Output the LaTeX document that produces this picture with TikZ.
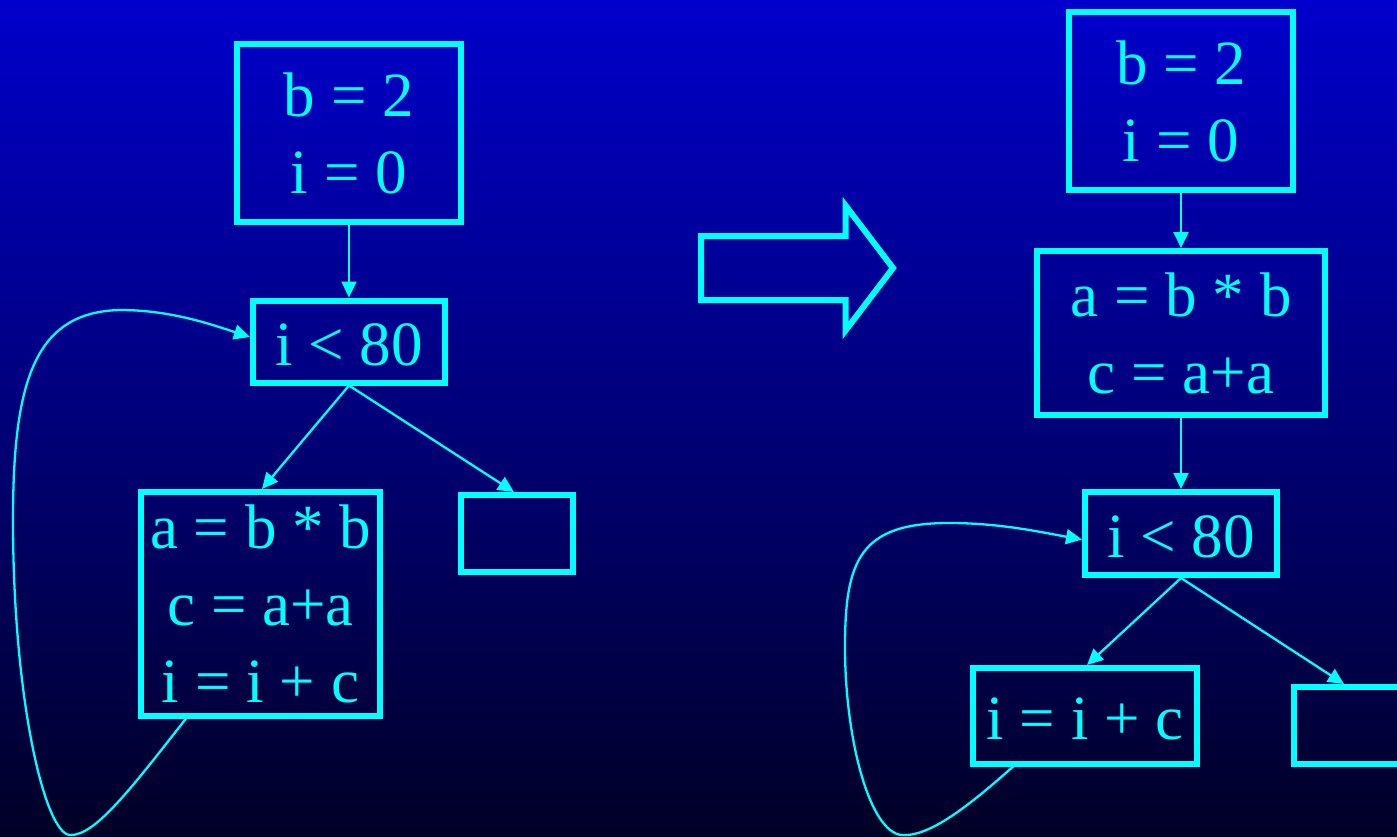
\documentclass[tikz,border=0pt]{standalone}
\usepackage{fontspec}
\setmainfont{Liberation Serif}
\usetikzlibrary{arrows.meta,calc}
\definecolor{bgtop}{RGB}{0,0,204}
\definecolor{bgbot}{RGB}{0,0,38}
\definecolor{cy}{RGB}{0,255,255}
\begin{document}
\begin{tikzpicture}[x=1pt,y=-1pt,
  blk/.style={draw=cy, line width=6pt, text=cy, align=center, inner sep=0pt,
              font=\fontsize{63}{77}\selectfont,
              execute at begin node={\rule{0pt}{48pt}}},
  edge/.style={draw=cy, line width=2.3pt, -{Triangle[length=16pt,width=15pt]}},
  ]
\useasboundingbox (0,0) rectangle (1397,836);
\clip (0,0) rectangle (1397,836);
\shade[top color=bgtop,bottom color=bgbot] (0,0) rectangle (1397,836);

% left graph
\node[blk, minimum width=224pt, minimum height=178pt] (L1) at (349,133) {b = 2\\i = 0};
\node[blk, minimum width=192pt, minimum height=82pt] (L2) at (349,341.5) {i < 80};
\node[blk, minimum width=239pt, minimum height=224pt] (L3) at (260.5,604) {a = b * b\\c = a+a\\i = i + c};
\node[blk, minimum width=112pt, minimum height=77pt] (L4) at (517,533.5) {};

\draw[edge] (L1.south) -- (L2.north);
\draw[edge] (L2.south) -- ($(L3.north)+(1.5,0)$);
\draw[edge] (L2.south) -- ($(L4.north)+(-3,0)$);
\coordinate (ls) at ($(L3.south)+(-72.5,-3)$);
\draw[edge] (ls) .. controls (130,790) and (95,836) .. (70,835)
  .. controls (45,834) and (13,700) .. (13,520)
  .. controls (13,380) and (35,312) .. (120,310)
  .. controls (170,310) and (210,324) .. ($(L2.west)+(0,-4.5)$);

% transformation arrow
\draw[cy, line width=6pt] (701,236) -- (845.5,236) -- (845.5,205.5) -- (893,268)
  -- (845.5,330.5) -- (845.5,300) -- (701,300) -- cycle;

% right graph
\node[blk, minimum width=224pt, minimum height=178pt] (R1) at (1181,101) {b = 2\\i = 0};
\node[blk, minimum width=288pt, minimum height=164pt] (R2) at (1181,333) {a = b * b\\c = a+a};
\node[blk, minimum width=192pt, minimum height=83pt] (R3) at (1181,533.5) {i < 80};
\node[blk, minimum width=224pt, minimum height=96pt] (R4) at (1085,716) {i = i + c};
\node[blk, minimum width=112pt, minimum height=77pt] (R5) at (1350,725.5) {};

\draw[edge] (R1.south) -- (R2.north);
\draw[edge] (R2.south) -- (R3.north);
\draw[edge] (R3.south) -- ($(R4.north)+(2,0)$);
\draw[edge] (R3.south) -- ($(R5.north)+(-6,0)$);
\coordinate (rs) at ($(R4.south)+(-69,-3)$);
\draw[edge] (rs) .. controls (970,805) and (930,837) .. (902,835)
  .. controls (870,833) and (845,740) .. (845,647)
  .. controls (845,560) and (860,523) .. (949,523)
  .. controls (1000,523) and (1040,532) .. ($(R3.west)+(0,6)$);
\end{tikzpicture}
\end{document}
